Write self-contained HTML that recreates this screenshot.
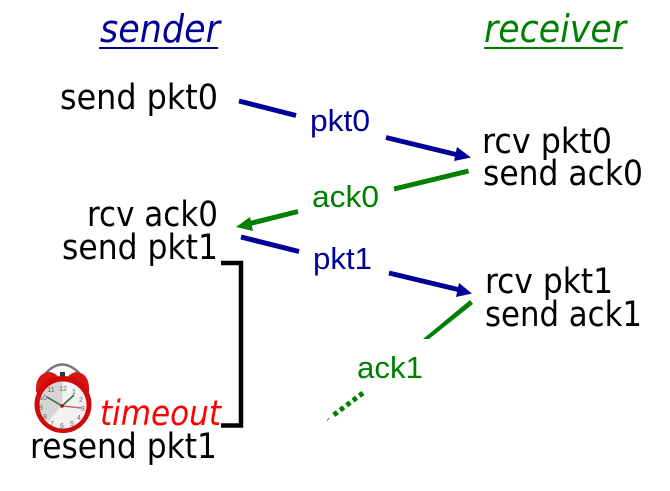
<!DOCTYPE html>
<html><head><meta charset="utf-8">
<style>
html,body{margin:0;padding:0;background:#fff;width:670px;height:491px;overflow:hidden}
svg{display:block}
.b{font-family:"DejaVu Sans",sans-serif;font-size:35px;fill:#000}
.l{font-family:"Liberation Sans",sans-serif;font-size:31px}
.h{font-family:"DejaVu Sans",sans-serif;font-size:38px;font-style:italic}
</style></head>
<body>
<svg width="670" height="491" viewBox="0 0 670 491" xmlns="http://www.w3.org/2000/svg">
<rect width="670" height="491" fill="#fff"/>

<text class="h" x="100" y="42" fill="#000099" textLength="120" lengthAdjust="spacingAndGlyphs">sender</text>
<rect x="99" y="47" width="119" height="2" fill="#000099"/>
<text class="h" x="484" y="42" fill="#007f00" textLength="142" lengthAdjust="spacingAndGlyphs">receiver</text>
<rect x="484" y="47" width="139" height="2" fill="#007f00"/>

<text class="b" x="60" y="109" textLength="158" lengthAdjust="spacingAndGlyphs">send pkt0</text>
<text class="b" x="482" y="153" textLength="130" lengthAdjust="spacingAndGlyphs">rcv pkt0</text>
<text class="b" x="483" y="185" textLength="160" lengthAdjust="spacingAndGlyphs">send ack0</text>
<text class="b" x="87" y="226" textLength="131" lengthAdjust="spacingAndGlyphs">rcv ack0</text>
<text class="b" x="62" y="259" textLength="156" lengthAdjust="spacingAndGlyphs">send pkt1</text>
<text class="b" x="485" y="293" textLength="128" lengthAdjust="spacingAndGlyphs">rcv pkt1</text>
<text class="b" x="485" y="326" textLength="157" lengthAdjust="spacingAndGlyphs">send ack1</text>
<text class="b" x="30" y="458" textLength="187" lengthAdjust="spacingAndGlyphs">resend pkt1</text>
<text class="h" x="100" y="425" fill="#ff0000" style="font-size:35px" textLength="121" lengthAdjust="spacingAndGlyphs">timeout</text>

<text class="l" x="310" y="131" fill="#000099" textLength="60" lengthAdjust="spacingAndGlyphs">pkt0</text>
<text class="l" x="312" y="207" fill="#007f00" textLength="67" lengthAdjust="spacingAndGlyphs">ack0</text>
<text class="l" x="313" y="269" fill="#000099" textLength="59" lengthAdjust="spacingAndGlyphs">pkt1</text>
<text class="l" x="357" y="378" fill="#007f00" textLength="66" lengthAdjust="spacingAndGlyphs">ack1</text>

<g fill="none" stroke-width="5">
<line x1="239" y1="101" x2="296" y2="115.5" stroke="#000099"/>
<line x1="386" y1="137.5" x2="458" y2="155" stroke="#000099"/>
<polygon points="471,157.5 454,161 457,147" fill="#000099" stroke="none"/>
<line x1="468.5" y1="171" x2="394" y2="189" stroke="#007f00"/>
<line x1="298" y1="211.5" x2="248" y2="224" stroke="#007f00"/>
<polygon points="236,227 250,217 253,231" fill="#007f00" stroke="none"/>
<line x1="241" y1="237" x2="299" y2="251.5" stroke="#000099"/>
<line x1="389" y1="273" x2="460" y2="290" stroke="#000099"/>
<polygon points="472,293.5 456,297 459,283" fill="#000099" stroke="none"/>
<polygon points="470,300 473,304 429,339 423,339" fill="#007f00" stroke="none"/>
<line x1="363" y1="393" x2="331" y2="417" stroke="#007f00" stroke-dasharray="4.5 3.5"/>
<line x1="329" y1="418" x2="327" y2="421" stroke="#007f00" stroke-width="0.7"/>
<polyline points="221,263 241,263 241,425.5 221,425.5" stroke="#000" stroke-width="4.5"/>
</g>

<!-- alarm clock -->
<g>
<path d="M45 374 Q62 355 80 374" fill="none" stroke="#777" stroke-width="2.5"/>
<path d="M36 392 Q35 373 50 372 Q56 373 59 378 Q46 381 38 394Z" fill="#d81414"/>
<path d="M89 392 Q90 373 76 372 Q70 373 67 378 Q80 381 88 394Z" fill="#d81414"/>
<rect x="60" y="372" width="5" height="5" fill="#333"/>
<circle cx="63" cy="404.5" r="28.5" fill="#cf0a0a"/>
<circle cx="63" cy="405" r="23.5" fill="#f2f2f2"/>
<path d="M63 382 a23 23 0 0 0 -23 23 a23 23 0 0 0 8 17 L62 405 Z" fill="#d4d4d4"/>
<g fill="#666" font-family="Liberation Sans,sans-serif" font-size="7" text-anchor="middle">
<text x="63" y="391">12</text><text x="74" y="394">1</text><text x="81" y="402">2</text><text x="83" y="411">3</text><text x="79" y="420">4</text><text x="72" y="426">5</text><text x="62" y="428">6</text><text x="52" y="426">7</text><text x="45" y="419">8</text><text x="41" y="410">9</text><text x="43" y="400">10</text><text x="51" y="392">11</text>
</g>
<line x1="62" y1="406" x2="47" y2="397" stroke="#3c6a3c" stroke-width="1.6"/>
<line x1="62" y1="406" x2="74" y2="395" stroke="#3c6a3c" stroke-width="1.6"/>
<line x1="62" y1="406" x2="82" y2="408" stroke="#d06060" stroke-width="1.5"/>
<circle cx="62" cy="406" r="1.8" fill="#a01010"/>
</g>
</svg>
</body></html>
